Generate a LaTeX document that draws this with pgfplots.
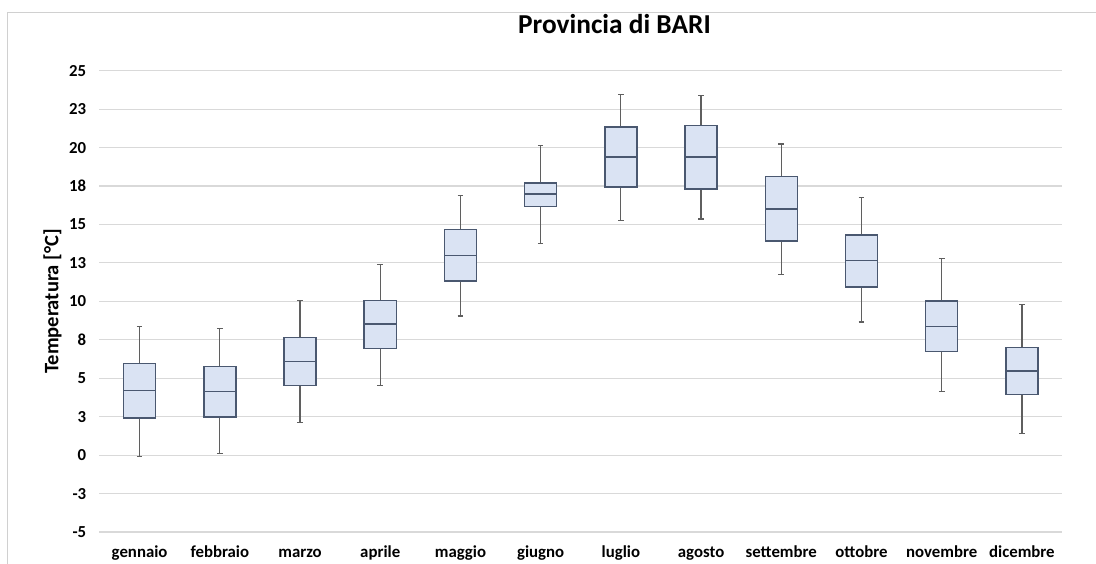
\documentclass[border=0pt]{standalone}
\usepackage{fontspec}
\setmainfont{Carlito}
\usepackage{pgfplots}
\pgfplotsset{compat=1.18}
\usepgfplotslibrary{statistics}
\definecolor{boxfill}{HTML}{DAE3F3}
\definecolor{boxline}{HTML}{4A5870}
\definecolor{whisk}{HTML}{5F5F5F}
\definecolor{gridc}{HTML}{D9D9D9}
\definecolor{frame}{HTML}{D0D0D0}
\begin{document}
\begin{tikzpicture}
\path[use as bounding box] (-74.625pt,-24pt) rectangle (747.375pt,399pt);
\draw[frame, line width=1.1pt] (-69pt,-40pt) -- (-69pt,389.5pt) -- (770pt,389.5pt);
\begin{axis}[
  scale only axis,
  width=721.9pt, height=346pt,
  xmin=0.5, xmax=12.5, ymin=-5, ymax=25,
  axis line style={draw=none},
  major tick length=0pt,
  xtick={1,...,12},
  xticklabels={gennaio,febbraio,marzo,aprile,maggio,giugno,luglio,agosto,settembre,ottobre,novembre,dicembre},
  ytick={-5,-2.5,0,2.5,5,7.5,10,12.5,15,17.5,20,22.5,25},
  yticklabels={-5,-3,0,3,5,8,10,13,15,18,20,23,25},
  ymajorgrids, grid style={gridc, line width=0.8pt},
  tick label style={font=\fontsize{12.6}{14}\selectfont\bfseries},
  yticklabel style={inner sep=0pt, anchor=east, xshift=-9.75pt},
  xticklabel style={inner sep=0pt, anchor=base, yshift=-19pt},
  ylabel={Temperatura [°C]},
  ylabel style={at={(axis description cs:-0.0487,0.5)}, anchor=center, font=\fontsize{15.4}{17}\selectfont\bfseries},
  title={Provincia di BARI},
  title style={at={(axis description cs:0.535,1.0629)}, anchor=base, yshift=0pt, font=\fontsize{20.5}{24}\selectfont\bfseries},
  boxplot/draw direction=y,
  boxplot/every box/.style={draw=boxline, fill=boxfill, line width=1.1pt},
  boxplot/every median/.style={draw=boxline, line width=1.1pt},
  boxplot/every whisker/.style={draw=whisk, line width=0.9pt},
  boxplot/box extend=0.40,
  boxplot/whisker extend=0.07,
]
\addplot[boxplot prepared={draw position=1, lower whisker=-0.07, lower quartile=2.41, median=4.21, upper quartile=5.97, upper whisker=8.35}] coordinates {};
\addplot[boxplot prepared={draw position=2, lower whisker=0.11, lower quartile=2.47, median=4.12, upper quartile=5.75, upper whisker=8.22}] coordinates {};
\addplot[boxplot prepared={draw position=3, lower whisker=2.10, lower quartile=4.51, median=6.10, upper quartile=7.64, upper whisker=10.05}] coordinates {};
\addplot[boxplot prepared={draw position=4, lower whisker=4.51, lower quartile=6.95, median=8.53, upper quartile=10.05, upper whisker=12.37}] coordinates {};
\addplot[boxplot prepared={draw position=5, lower whisker=9.05, lower quartile=11.31, median=12.98, upper quartile=14.67, upper whisker=16.88}] coordinates {};
\addplot[boxplot prepared={draw position=6, lower whisker=13.78, lower quartile=16.17, median=16.97, upper quartile=17.71, upper whisker=20.12}] coordinates {};
\addplot[boxplot prepared={draw position=7, lower whisker=15.28, lower quartile=17.43, median=19.38, upper quartile=21.33, upper whisker=23.44}] coordinates {};
\addplot[boxplot prepared={draw position=8, lower whisker=15.36, lower quartile=17.32, median=19.38, upper quartile=21.44, upper whisker=23.39}] coordinates {};
\addplot[boxplot prepared={draw position=9, lower whisker=11.72, lower quartile=13.93, median=16.00, upper quartile=18.12, upper whisker=20.23}] coordinates {};
\addplot[boxplot prepared={draw position=10, lower whisker=8.66, lower quartile=10.94, median=12.65, upper quartile=14.32, upper whisker=16.75}] coordinates {};
\addplot[boxplot prepared={draw position=11, lower whisker=4.12, lower quartile=6.75, median=8.38, upper quartile=10.03, upper whisker=12.78}] coordinates {};
\addplot[boxplot prepared={draw position=12, lower whisker=1.39, lower quartile=3.93, median=5.47, upper quartile=6.99, upper whisker=9.79}] coordinates {};
\end{axis}
\end{tikzpicture}
\end{document}
